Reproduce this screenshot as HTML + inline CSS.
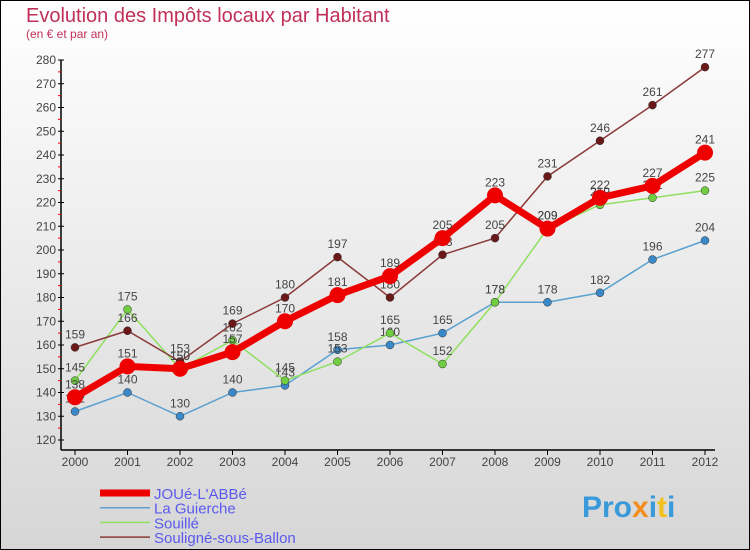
<!DOCTYPE html>
<html><head><meta charset="utf-8"><style>
body{margin:0}
#c{width:750px;height:550px;position:relative;overflow:hidden}
text{font-family:"Liberation Sans",sans-serif}
</style></head><body>
<div id="c">
<svg id="s" width="750" height="550" xmlns="http://www.w3.org/2000/svg">
<defs><linearGradient id="bg" x1="0" y1="0" x2="0" y2="1"><stop offset="0" stop-color="#ffffff"/><stop offset="1" stop-color="#d6d6d6"/></linearGradient></defs>
<rect x="0.5" y="0.5" width="749" height="549" fill="url(#bg)" stroke="#000"/>
<text x="26" y="22" font-size="20" fill="#c0305a">Evolution des Impôts locaux par Habitant</text>
<text x="26" y="38" font-size="12" fill="#c0305a">(en € et par an)</text>
<g id="axes"></g><g id="series"></g><g id="legend"></g>
<text x="582" y="517" font-size="30" font-weight="bold" fill="#3a9ad9">Pro<tspan fill="#f28c1c">x</tspan><tspan fill="#3a9ad9">i</tspan><tspan fill="#f2c01c">t</tspan><tspan fill="#3a9ad9">i</tspan></text>
</svg></div>
<script>
const years=[2000,2001,2002,2003,2004,2005,2006,2007,2008,2009,2010,2011,2012];
const yTicks=[120,130,140,150,160,170,180,190,200,210,220,230,240,250,260,270,280];
const names=["JOUé-L'ABBé","La Guierche","Souillé","Souligné-sous-Ballon"];
const joue=[138,151,150,157,170,181,189,205,223,209,222,227,241];
const guierche=[132,140,130,140,143,158,160,165,178,178,182,196,204];
const souille=[145,175,150,162,145,153,165,152,178,209,219,222,225];
const souligne=[159,166,153,169,180,197,180,198,205,231,246,261,277];
const NS="http://www.w3.org/2000/svg";
const X=i=>75+i*52.5, Y=v=>440-(v-120)*2.375;
function mk(t,a,p){const e=document.createElementNS(NS,t);for(const k in a)e.setAttribute(k,a[k]);p.appendChild(e);return e;}
const ax=document.getElementById('axes');
const yl=mk('line',{x1:61,y1:60,x2:61,y2:450,stroke:'#000','stroke-width':1.5},ax);

const xl=mk('line',{x1:61,y1:450,x2:715,y2:450,stroke:'#000','stroke-width':1.5},ax);

yTicks.forEach((v,i)=>{mk('line',{x1:58,y1:Y(v),x2:64,y2:Y(v),stroke:'#000'},ax);
 if(i<yTicks.length-1)mk('line',{x1:58,y1:Y(v+5),x2:61,y2:Y(v+5),stroke:'#e00'},ax);
 const t=mk('text',{x:56,y:Y(v)+4,'font-size':12,fill:'#444','text-anchor':'end'},ax);t.textContent=v;
 });
years.forEach((y,i)=>{mk('line',{x1:X(i),y1:450,x2:X(i),y2:455,stroke:'#000'},ax);
 const t=mk('text',{x:X(i),y:466,'font-size':12,fill:'#444','text-anchor':'middle'},ax);t.textContent=y;
 });
const sg=document.getElementById('series');
const defs=[[guierche,'#5aa0d0','#3a88c8',1.5,4],[souille,'#90e060','#70cc40',1.5,4],[souligne,'#8a3a3a','#6a1818',1.5,4],[joue,'#ee0000','#ee0000',7,8]];
const snames=['la-guierche','souille','souligne-sous-ballon','joue-labbe'];
defs.forEach((d,k)=>{const g=mk('g',{},sg);
 
 mk('polyline',{points:d[0].map((v,i)=>X(i)+','+Y(v)).join(' '),fill:'none',stroke:d[1],'stroke-width':d[3]},g);
 d[0].forEach((v,i)=>{const c=mk('circle',{cx:X(i),cy:Y(v),r:d[4],fill:d[2],stroke:k==3?'#ee0000':'#333','stroke-width':k==3?0:0.5},g);
  
  const t=mk('text',{x:X(i),y:Y(v)-9,'font-size':12,fill:'#444','text-anchor':'middle'},g);t.textContent=v;
  });});
const lg=document.getElementById('legend');
const lc=['#ee0000','#5aa0d0','#90e060','#8a3a3a'],lw=[7,1.5,1.5,1.5];
names.forEach((n,i)=>{const y=493+i*14.7;const g=mk('g',{},lg);
 
 mk('line',{x1:100,y1:y,x2:150,y2:y,stroke:lc[i],'stroke-width':lw[i]},g);
 const t=mk('text',{x:154,y:y+6,'font-size':15,fill:'#5a5aee'},g);t.textContent=n;});
</script></body></html>
